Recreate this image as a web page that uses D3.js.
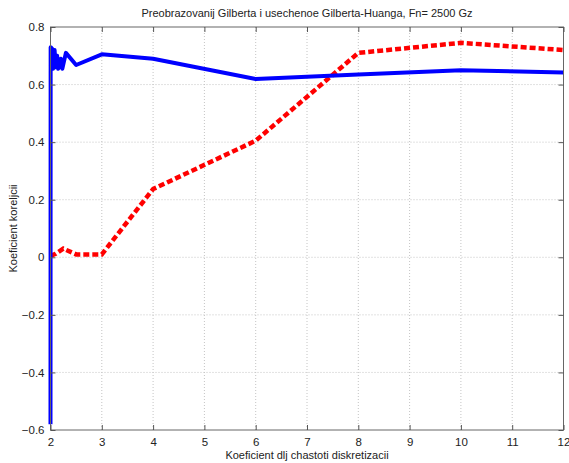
<!DOCTYPE html>
<html>
  <meta charset="utf-8">
  <head>
    <title>Preobrazovanij Gilberta</title>
  </head>
  <style>
    body { margin: 0; background: #fff; }
    text { font-family: "Liberation Sans", Arial, sans-serif; font-size: 11px; fill: #222; }
    .grid line { stroke: #c4c4c4; stroke-dasharray: 1,2; }
    .tick line { stroke: #555; }
  </style>
  <script src="https://d3js.org/d3.v7.min.js"></script>
  <body>
    <svg width="569" height="463"></svg>
    <script>
      // data
      var xTicks = [2, 3, 4, 5, 6, 7, 8, 9, 10, 11, 12];
      var yTicks = [-0.6, -0.4, -0.2, 0, 0.2, 0.4, 0.6, 0.8];

      var blueX = [2, 2.003, 2.03, 2.05, 2.08, 2.1, 2.13, 2.15, 2.2, 2.23, 2.3, 2.5, 3, 4, 6, 8, 10, 12];
      var blueY = [-0.58, 0.73, 0.725, 0.655, 0.72, 0.66, 0.70, 0.655, 0.69, 0.655, 0.71, 0.668, 0.705, 0.69, 0.619, 0.635, 0.65, 0.642];

      var redX = [2, 2.1, 2.25, 2.5, 3, 4, 6, 8, 10, 12];
      var redY = [0.005, 0.012, 0.03, 0.01, 0.01, 0.237, 0.405, 0.71, 0.745, 0.72];

      var svg = d3.select("svg");
      var pL = 50.5, pR = 563.5, pT = 27, pB = 430;

      var x = d3.scaleLinear().domain([2, 12]).range([pL, pR]);
      var y = d3.scaleLinear().domain([-0.6, 0.8]).range([pB, pT]);

      // grid
      var grid = svg.append("g").attr("class", "grid");
      grid.selectAll(".gx").data(xTicks.slice(1, -1)).enter().append("line")
          .attr("x1", function(d) { return x(d); }).attr("x2", function(d) { return x(d); })
          .attr("y1", pT).attr("y2", pB);
      grid.selectAll(".gy").data(yTicks.slice(1, -1)).enter().append("line")
          .attr("y1", function(d) { return y(d); }).attr("y2", function(d) { return y(d); })
          .attr("x1", pL).attr("x2", pR);

      // lines
      var line = d3.line()
          .x(function(d) { return x(d[0]); })
          .y(function(d) { return y(d[1]); });

      svg.append("path")
          .datum(redX.map(function(v, i) { return [v, redY[i]]; }))
          .attr("fill", "none").attr("stroke", "#ff0000")
          .attr("stroke-width", 4.5).attr("stroke-dasharray", "6,3")
          .attr("d", line);

      svg.append("path")
          .datum(blueX.map(function(v, i) { return [v, blueY[i]]; }))
          .attr("fill", "none").attr("stroke", "#0000ff")
          .attr("stroke-width", 4).attr("stroke-linejoin", "round")
          .attr("d", line);

      // box
      svg.append("rect")
          .attr("x", pL).attr("y", pT)
          .attr("width", pR - pL).attr("height", pB - pT)
          .attr("fill", "none").attr("stroke", "#666").attr("stroke-width", 1);

      // axes (ticks pointing inward, MATLAB style)
      svg.append("g").attr("transform", "translate(0," + pB + ")")
          .call(d3.axisBottom(x).tickValues(xTicks).tickSizeInner(-5).tickSizeOuter(0).tickPadding(8).tickFormat(d3.format("d")))
          .call(function(g) { g.select(".domain").remove(); });
      svg.append("g").attr("transform", "translate(0," + pT + ")")
          .call(d3.axisTop(x).tickValues(xTicks).tickSizeInner(-5).tickSizeOuter(0).tickFormat(""))
          .call(function(g) { g.select(".domain").remove(); });
      svg.append("g").attr("transform", "translate(" + pL + ",0)")
          .call(d3.axisLeft(y).tickValues(yTicks).tickSizeInner(-5).tickSizeOuter(0).tickPadding(6).tickFormat(function(d) { return d === 0 ? "0" : d3.format(".1f")(d); }))
          .call(function(g) { g.select(".domain").remove(); });
      svg.append("g").attr("transform", "translate(" + pR + ",0)")
          .call(d3.axisRight(y).tickValues(yTicks).tickSizeInner(-5).tickSizeOuter(0).tickFormat(""))
          .call(function(g) { g.select(".domain").remove(); });

      svg.selectAll(".tick text").style("font-size", "11.5px").attr("fill", "#222");

      // titles
      svg.append("text").attr("x", (pL + pR) / 2).attr("y", 17)
          .attr("text-anchor", "middle")
          .text("Preobrazovanij Gilberta i usechenoe Gilberta-Huanga, Fn= 2500 Gz");
      svg.append("text").attr("x", (pL + pR) / 2).attr("y", 459)
          .attr("text-anchor", "middle")
          .text("Koeficient dlj chastoti diskretizacii");
      svg.append("text").attr("transform", "translate(17," + (pT + pB) / 2 + ") rotate(-90)")
          .attr("text-anchor", "middle")
          .text("Koeficient koreljcii");
    </script>
  </body>
</html>
